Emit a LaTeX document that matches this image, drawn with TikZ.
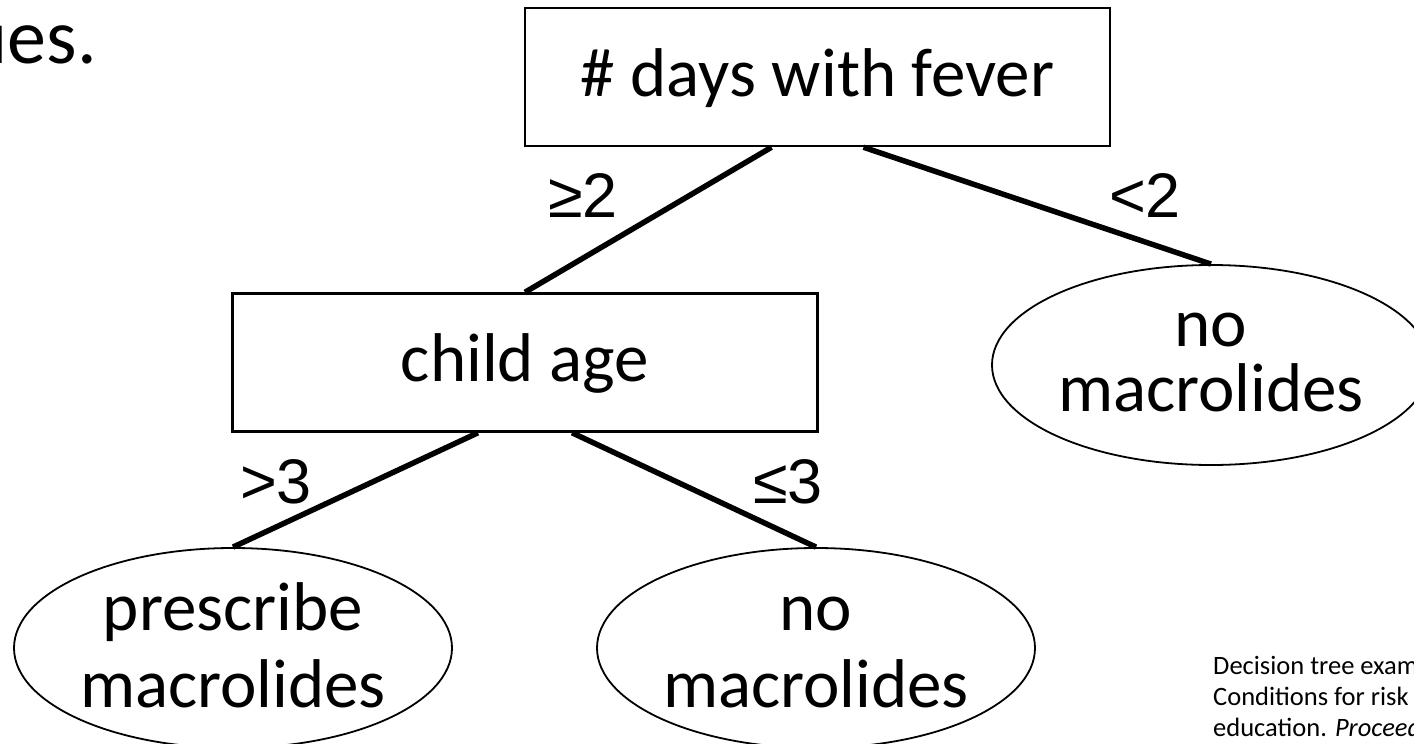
\documentclass[tikz,border=0pt]{standalone}
\usepackage{fontspec}
\setmainfont{Carlito}
\newfontfamily\condfont{Liberation Sans}
\usetikzlibrary{shapes.geometric}

% fixed line struts so the text sits at the same baselines in every shape
\newcommand\boxline{\rule[-5pt]{0pt}{55pt}}
\newcommand\leafline{\rule[-9pt]{0pt}{60pt}}
\newcommand\tightline{\rule[-11pt]{0pt}{50pt}}

\tikzset{
  testbox/.style={draw, line width=2.5pt, minimum width=585pt, minimum height=138pt,
    inner sep=0pt, font=\fontsize{69}{80}\selectfont},
  leaf/.style={draw, ellipse, line width=1.8pt, minimum width=438pt, minimum height=200pt,
    inner sep=0pt, align=center, font=\fontsize{69}{77}\selectfont},
  branch/.style={line width=5.5pt},
  cond/.style={inner sep=0pt, anchor=base, font=\condfont\fontsize{63}{63}\selectfont},
}

\begin{document}
\begin{tikzpicture}[x=1pt, y=-1pt]
  \useasboundingbox (0,0) rectangle (1414,744);

  % tail of the slide sentence
  \node[inner sep=0pt, anchor=base east, font=\fontsize{78}{90}\selectfont] (tail) at (97,63) {ues.};

  % decision nodes
  \node[testbox] (fever) at (817.5,77) {\boxline\# days with fever};
  \node[testbox] (age) at (525,362.5) {\boxline child age};

  % outcomes
  \node[leaf] (rx) at (233,648) {\leafline prescribe\\\leafline macrolides};
  \node[leaf] (norx1) at (816,648) {\leafline no\\\leafline macrolides};
  \node[leaf, font=\fontsize{69}{65}\selectfont] (norx2) at (1211,365) {\tightline no\\\tightline macrolides};

  % branches
  \draw[branch] ([xshift=-46pt]fever.south) -- (age.north);
  \draw[branch] ([xshift=46pt]fever.south) -- (norx2.north);
  \draw[branch] ([xshift=-47pt]age.south) -- (rx.north);
  \draw[branch] ([xshift=47pt]age.south) -- (norx1.north);

  % branch conditions
  \node[cond] (ge2) at (583,217) {≥2};
  \node[cond] (lt2) at (1145,217) {<2};
  \node[cond] (gt3) at (276,503) {>3};
  \node[cond] (le3) at (788,503) {≤3};

  % reference note
  \node[inner sep=0pt, anchor=north west, align=left, font=\fontsize{26.5}{31}\selectfont]
    (note) at (1213,656) {Decision tree exam\\Conditions for risk\\education. \textit{Proceed}};
\end{tikzpicture}
\end{document}
